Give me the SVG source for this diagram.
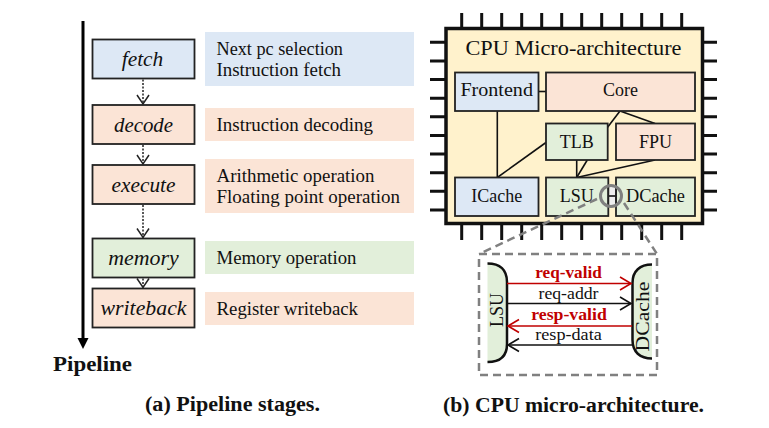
<svg xmlns="http://www.w3.org/2000/svg" width="769" height="428" viewBox="0 0 769 428">
<style>
text{font-family:"Liberation Serif","Times New Roman",serif;fill:#111}
.stage{stroke:#222;stroke-width:1.8}
.blue{fill:#dde8f5}.peach{fill:#fbe4d6}.green{fill:#e2efda}
.sl{font-style:italic;font-size:21px;text-anchor:middle}
.desc{font-size:18px}
.node{stroke:#222;stroke-width:1.8}
.nl{font-size:18px;text-anchor:middle}
.pin{stroke:#111;stroke-width:3}
.wire{stroke:#111;stroke-width:1.6;fill:none}
.dotted{stroke:#222;stroke-width:1.5;stroke-dasharray:2 1.5;fill:none}
.gdash{stroke:#808080;stroke-width:2.5;stroke-dasharray:8 5;fill:none}
.sig{stroke-width:1.6;fill:none}
.bt{font-weight:bold;fill:#c00000}
.cap{font-weight:bold;font-size:20px}
</style>
<defs>
<marker id="vopen" markerUnits="userSpaceOnUse" markerWidth="14" markerHeight="14" viewBox="0 0 14 14" refX="10" refY="7" orient="auto">
<path d="M1,1 L10,7 L1,13" fill="none" stroke="#222" stroke-width="1.5"/>
</marker>
<marker id="ared" markerUnits="userSpaceOnUse" markerWidth="16" markerHeight="16" viewBox="0 0 16 16" refX="12" refY="8" orient="auto">
<path d="M1,1.5 L12,8 L1,14.5" fill="none" stroke="#c00000" stroke-width="1.6"/>
</marker>
<marker id="ablk" markerUnits="userSpaceOnUse" markerWidth="16" markerHeight="16" viewBox="0 0 16 16" refX="12" refY="8" orient="auto">
<path d="M1,1.5 L12,8 L1,14.5" fill="none" stroke="#111" stroke-width="1.6"/>
</marker>
</defs>
<rect width="769" height="428" fill="#fff"/>

<!-- Left panel: pipeline -->
<g id="pipeline-axis">
<line x1="83" y1="21" x2="83" y2="340" stroke="#000" stroke-width="3"/>
<polygon points="77.5,338 88.5,338 83,349" fill="#000"/>
<text x="53" y="371" font-weight="bold" font-size="21" textLength="79" lengthAdjust="spacingAndGlyphs">Pipeline</text>
</g>

<g id="fetch">
<rect class="stage blue" x="92.5" y="39.5" width="102" height="39"/>
<text class="sl" x="142.5" y="66" textLength="41.5" lengthAdjust="spacingAndGlyphs">fetch</text>
</g>
<g id="fetch-desc">
<rect class="blue" x="205" y="32" width="209" height="54"/>
<text class="desc" x="216.5" y="54.5" textLength="126.5" lengthAdjust="spacingAndGlyphs">Next pc selection</text>
<text class="desc" x="216.5" y="75.5" textLength="124.5" lengthAdjust="spacingAndGlyphs">Instruction fetch</text>
</g>
<g id="decode">
<rect class="stage peach" x="92.5" y="105" width="102" height="39"/>
<text class="sl" x="143.5" y="132" textLength="59" lengthAdjust="spacingAndGlyphs">decode</text>
</g>
<g id="decode-desc">
<rect class="peach" x="205" y="108" width="209" height="33"/>
<text class="desc" x="216.5" y="130.5" textLength="156.5" lengthAdjust="spacingAndGlyphs">Instruction decoding</text>
</g>
<g id="execute">
<rect class="stage peach" x="92.5" y="165" width="102" height="39"/>
<text class="sl" x="143.5" y="192" textLength="64" lengthAdjust="spacingAndGlyphs">execute</text>
</g>
<g id="execute-desc">
<rect class="peach" x="205" y="159" width="209" height="54"/>
<text class="desc" x="216.5" y="182" textLength="158" lengthAdjust="spacingAndGlyphs">Arithmetic operation</text>
<text class="desc" x="216.5" y="202.5" textLength="183.5" lengthAdjust="spacingAndGlyphs">Floating point operation</text>
</g>
<g id="memory">
<rect class="stage green" x="92.5" y="238.5" width="102" height="39"/>
<text class="sl" x="143.5" y="264.5" textLength="70.5" lengthAdjust="spacingAndGlyphs">memory</text>
</g>
<g id="memory-desc">
<rect class="green" x="205" y="241" width="209" height="33"/>
<text class="desc" x="216.5" y="263.5" textLength="140" lengthAdjust="spacingAndGlyphs">Memory operation</text>
</g>
<g id="writeback">
<rect class="stage peach" x="92.5" y="288.5" width="102" height="39"/>
<text class="sl" x="143.5" y="315" textLength="86" lengthAdjust="spacingAndGlyphs">writeback</text>
</g>
<g id="writeback-desc">
<rect class="peach" x="205" y="292" width="209" height="33"/>
<text class="desc" x="216.5" y="315" textLength="141.5" lengthAdjust="spacingAndGlyphs">Register writeback</text>
</g>

<g id="pipeline-connectors">
<line class="dotted" x1="143" y1="79.5" x2="143" y2="104" marker-end="url(#vopen)"/>
<line class="dotted" x1="143" y1="145" x2="143" y2="164" marker-end="url(#vopen)"/>
<line class="dotted" x1="143" y1="205" x2="143" y2="237.5" marker-end="url(#vopen)"/>
<line class="dotted" x1="143" y1="278.5" x2="143" y2="287.5" marker-end="url(#vopen)"/>
</g>

<text class="cap" x="145" y="411" textLength="175" lengthAdjust="spacingAndGlyphs">(a) Pipeline stages.</text>

<!-- Right panel: CPU chip -->
<g id="chip">
<g id="pins">
<path class="pin" d="M461.7,13V28M481.7,13V28M501.7,13V28M521.7,13V28M541.7,13V28M561.7,13V28M581.7,13V28M601.7,13V28M621.7,13V28M641.7,13V28M661.7,13V28M681.7,13V28"/>
<path class="pin" d="M461.7,224V240M481.7,224V240M501.7,224V240M521.7,224V240M541.7,224V240M561.7,224V240M581.7,224V240M601.7,224V240M621.7,224V240M641.7,224V240M661.7,224V240M681.7,224V240"/>
<path class="pin" d="M430,42.3H446M430,60.9H446M430,79.6H446M430,98.2H446M430,116.8H446M430,135.5H446M430,154.1H446M430,172.7H446M430,191.3H446M430,210H446"/>
<path class="pin" d="M703,42.3H717M703,60.9H717M703,79.6H717M703,98.2H717M703,116.8H717M703,135.5H717M703,154.1H717M703,172.7H717M703,191.3H717M703,210H717"/>
</g>
<rect x="446" y="28.5" width="256.5" height="195" fill="#fff2cc" stroke="#111" stroke-width="3.5"/>
<text x="573.5" y="54.5" font-size="21" text-anchor="middle" textLength="216" lengthAdjust="spacingAndGlyphs">CPU Micro-architecture</text>
</g>

<g id="chip-connectors">
<line class="wire" x1="538.5" y1="91.5" x2="546" y2="91.5"/>
<line class="wire" x1="497.3" y1="111" x2="497.3" y2="177.5"/>
<line class="wire" x1="546" y1="142.5" x2="497.3" y2="177.5"/>
<line class="wire" x1="620" y1="111" x2="607" y2="128"/>
<line class="wire" x1="620" y1="111" x2="655" y2="123.5"/>
<line class="wire" x1="576.7" y1="160" x2="576.7" y2="177.5"/>
<line class="wire" x1="587.3" y1="160" x2="576.7" y2="177.5"/>
<line class="wire" x1="655" y1="160" x2="576.7" y2="177.5"/>
</g>

<g id="frontend">
<rect class="node blue" x="455" y="72.5" width="83.5" height="38.5"/>
<text class="nl" x="496.7" y="96" textLength="72.5" lengthAdjust="spacingAndGlyphs">Frontend</text>
</g>
<g id="core">
<rect class="node peach" x="546" y="72.5" width="149" height="38.5"/>
<text class="nl" x="620.5" y="96">Core</text>
</g>
<g id="tlb">
<rect class="node green" x="546" y="123.5" width="61.7" height="36.5"/>
<text class="nl" x="576.8" y="147.5">TLB</text>
</g>
<g id="fpu">
<rect class="node peach" x="616" y="123.5" width="79" height="36.5"/>
<text class="nl" x="655.5" y="147.5">FPU</text>
</g>
<g id="icache">
<rect class="node blue" x="455" y="177.5" width="83.5" height="38.5"/>
<text class="nl" x="496.7" y="202">ICache</text>
</g>
<g id="lsu">
<rect class="node green" x="546" y="177.5" width="62.3" height="38.5"/>
<text class="nl" x="576.7" y="202">LSU</text>
</g>
<g id="dcache">
<rect class="node green" x="616" y="177.5" width="79" height="38.5"/>
<text class="nl" x="655.5" y="202" textLength="59" lengthAdjust="spacingAndGlyphs">DCache</text>
</g>

<g id="magnifier">
<rect x="609.2" y="186" width="6" height="20" fill="#eeeeee"/>
<line x1="608.3" y1="196" x2="616" y2="196" stroke="#111" stroke-width="1.6"/>
<line x1="608.3" y1="186" x2="608.3" y2="206" stroke="#222" stroke-width="1.8"/>
<line x1="616" y1="186" x2="616" y2="206" stroke="#222" stroke-width="1.8"/>
<circle cx="611" cy="196" r="10.5" fill="none" stroke="#808080" stroke-width="3"/>
<line class="gdash" x1="597" y1="199" x2="479" y2="254"/>
<line class="gdash" x1="624" y1="203" x2="657" y2="254"/>
</g>

<g id="zoom-box">
<rect x="479" y="254" width="178" height="121" fill="#f2f2f2" class="gdash"/>
</g>
<g id="zoom-lsu">
<path d="M487.5,263.5 C500,263.5 507,270 507,282 L507,344 C507,356 500,362 487.5,362 Z" fill="#e2efda"/>
<path d="M487.5,263.5 C500,263.5 507,270 507,282 L507,344 C507,356 500,362 487.5,362" fill="none" stroke="#111" stroke-width="2.5"/>
<text x="496.5" y="310" font-size="18" text-anchor="middle" dominant-baseline="central" transform="rotate(-90 496.5 310)">LSU</text>
</g>
<g id="zoom-dcache">
<path d="M652,264.5 C640,264.5 632.5,271 632.5,283 L632.5,340 C632.5,352 640,358.5 652,358.5 Z" fill="#e2efda"/>
<path d="M652,264.5 C640,264.5 632.5,271 632.5,283 L632.5,340 C632.5,352 640,358.5 652,358.5" fill="none" stroke="#111" stroke-width="2.5"/>
<text x="643" y="316.5" font-size="18" text-anchor="middle" dominant-baseline="central" transform="rotate(-90 643 316.5)" textLength="70" lengthAdjust="spacingAndGlyphs">DCache</text>
</g>

<g id="zoom-connectors">
<line class="sig" stroke="#c00000" x1="507" y1="283.5" x2="631" y2="283.5" marker-end="url(#ared)"/>
<line class="sig" stroke="#111" x1="507" y1="303.5" x2="631" y2="303.5" marker-end="url(#ablk)"/>
<line class="sig" stroke="#c00000" x1="632" y1="326" x2="508" y2="326" marker-end="url(#ared)"/>
<line class="sig" stroke="#111" x1="632" y1="345" x2="508" y2="345" marker-end="url(#ablk)"/>
<text class="bt" x="568.5" y="277.5" font-size="16" text-anchor="middle" textLength="66.5" lengthAdjust="spacingAndGlyphs">req-valid</text>
<text x="568.5" y="298.5" font-size="16" text-anchor="middle" textLength="60" lengthAdjust="spacingAndGlyphs">req-addr</text>
<text class="bt" x="569" y="320" font-size="16" text-anchor="middle" textLength="75.5" lengthAdjust="spacingAndGlyphs">resp-valid</text>
<text x="568.5" y="340" font-size="16" text-anchor="middle" textLength="66.5" lengthAdjust="spacingAndGlyphs">resp-data</text>
</g>

<text class="cap" x="443" y="412" textLength="261" lengthAdjust="spacingAndGlyphs">(b) CPU micro-architecture.</text>
</svg>
